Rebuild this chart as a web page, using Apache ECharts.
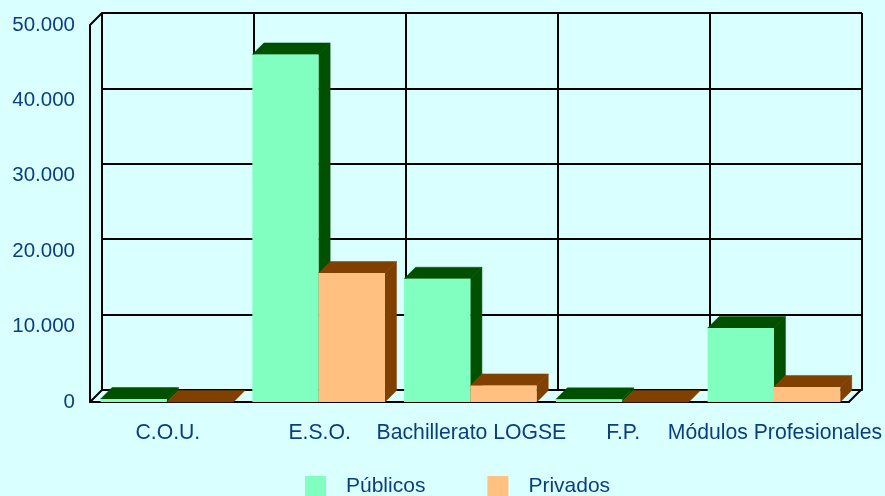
<!DOCTYPE html>
<html>
<head>
<meta charset="utf-8">
<script src="https://cdn.jsdelivr.net/npm/echarts@6/dist/echarts.min.js"></script>
<style>
html,body{margin:0;padding:0;background:#D9FFFF;}
#chart{width:885px;height:496px;}
</style>
</head>
<body>
<div id="chart"></div>
<script>
const categories = ['C.O.U.', 'E.S.O.', 'Bachillerato LOGSE', 'F.P.', 'Módulos Profesionales'];
const publicos = [400, 46100, 16350, 350, 9800];
const privados = [0, 17100, 2200, 0, 2000];
const seriesNames = ['Públicos', 'Privados'];

const DEPTH = 12;
const BAR_DEPTH = 11.5;
const TEXT = '#0a3f7f';
const FONT = 'Liberation Sans, Arial, sans-serif';

const chart = echarts.init(document.getElementById('chart'));

function barRenderer(side, front, dark) {
  return function (params, api) {
    const idx = api.value(0);
    const val = api.value(1);
    const base = api.coord([idx, 0]);
    const top = api.coord([idx, val]);
    const band = api.size([1, 0])[0];
    const w = band * 0.437;
    const cx = base[0] + 1;
    const x0 = side === 0 ? cx - w : cx;
    const x1 = x0 + w;
    const yt = top[1], yb = base[1];
    const d = BAR_DEPTH;
    return {
      type: 'group',
      children: [
        { type: 'polygon', shape: { points: [[x1, yt], [x1 + d, yt - d], [x1 + d, yb - d], [x1, yb]] },
          style: { fill: dark, stroke: dark, lineWidth: 0.5 } },
        { type: 'polygon', shape: { points: [[x0, yt], [x0 + d, yt - d], [x1 + d, yt - d], [x1, yt]] },
          style: { fill: dark, stroke: dark, lineWidth: 0.5 } },
        { type: 'rect', shape: { x: x0, y: yt, width: w, height: yb - yt },
          style: { fill: front } }
      ]
    };
  };
}

const option = {
  backgroundColor: '#D9FFFF',
  animation: false,
  textStyle: { fontFamily: FONT },
  legend: {
    data: seriesNames,
    left: 300, top: 471,
    icon: 'rect', itemWidth: 21, itemHeight: 21, itemGap: 62,
    textStyle: { color: TEXT, fontSize: 21, fontFamily: FONT, padding: [0, 0, 0, 15] }
  },
  grid: [
    { left: 102, top: 13, width: 760, height: 377 },
    { left: 90, top: 25, width: 760, height: 377 }
  ],
  xAxis: [
    { type: 'category', gridIndex: 0, data: categories, boundaryGap: true,
      axisLine: { show: true, lineStyle: { color: '#000', width: 2 } },
      axisTick: { show: false }, axisLabel: { show: false },
      splitLine: { show: true, interval: 0, lineStyle: { color: '#000', width: 2 } } },
    { type: 'category', gridIndex: 1, data: categories, boundaryGap: true,
      axisLine: { show: true, lineStyle: { color: '#000', width: 2 } },
      axisTick: { show: false },
      axisLabel: { color: TEXT, fontSize: 21.2, fontFamily: FONT, margin: 21, interval: 0,
        padding: [0, 0, 0, 4] },
      splitLine: { show: false } }
  ],
  yAxis: [
    { type: 'value', gridIndex: 0, min: 0, max: 50000, interval: 10000,
      axisLine: { show: true, lineStyle: { color: '#000', width: 2 } },
      axisTick: { show: false }, axisLabel: { show: false },
      splitLine: { show: true, lineStyle: { color: '#000', width: 2 } } },
    { type: 'value', gridIndex: 1, min: 0, max: 50000, interval: 10000,
      axisLine: { show: true, lineStyle: { color: '#000', width: 2 } },
      axisTick: { show: false },
      axisLabel: { color: TEXT, fontSize: 20.5, fontFamily: FONT, margin: 15,
        formatter: v => String(v).replace(/\B(?=(\d{3})+(?!\d))/g, '.') },
      splitLine: { show: false } }
  ],
  series: [
    {
      type: 'custom', name: 'frame', xAxisIndex: 1, yAxisIndex: 1, silent: true,
      data: [[0, 0]], z: 1,
      renderItem: function (params) {
        const r = params.coordSys;
        const d = DEPTH;
        const st = { stroke: '#000', lineWidth: 2, fill: null };
        return {
          type: 'group',
          children: [
            { type: 'line', shape: { x1: r.x, y1: r.y, x2: r.x + d, y2: r.y - d }, style: st },
            { type: 'line', shape: { x1: r.x, y1: r.y + r.height, x2: r.x + d, y2: r.y + r.height - d }, style: st },
            { type: 'line', shape: { x1: r.x + r.width, y1: r.y + r.height, x2: r.x + r.width + d, y2: r.y + r.height - d }, style: st }
          ]
        };
      }
    },
    {
      type: 'custom', name: 'Públicos', xAxisIndex: 1, yAxisIndex: 1, z: 3,
      itemStyle: { color: '#80FFC0' },
      data: publicos.map((v, i) => [i, v]),
      renderItem: barRenderer(0, '#80FFC0', '#005000')
    },
    {
      type: 'custom', name: 'Privados', xAxisIndex: 1, yAxisIndex: 1, z: 4,
      itemStyle: { color: '#FFC080' },
      data: privados.map((v, i) => [i, v]),
      renderItem: barRenderer(1, '#FFC080', '#804000')
    }
  ]
};
chart.setOption(option);
</script>
</body>
</html>
